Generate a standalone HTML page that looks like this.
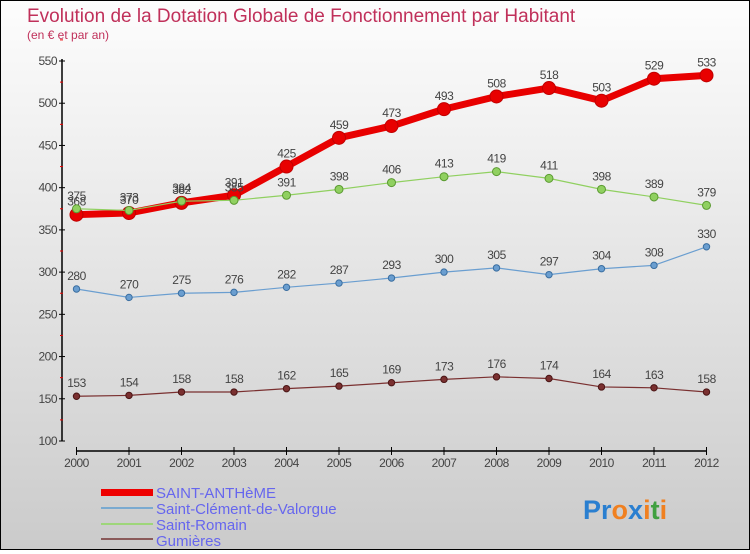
<!DOCTYPE html>
<html><head><meta charset="utf-8"><style>
body{margin:0;width:750px;height:550px;overflow:hidden;font-family:"Liberation Sans",sans-serif}
#wrap{position:absolute;left:0;top:0;width:748px;height:548px;border:1px solid #000;background:linear-gradient(#fdfdfd,#cbcbcb)}
</style></head><body>
<div id="wrap">
<svg id="chart" width="748" height="548" font-family="Liberation Sans, sans-serif">
<text x="26" y="21" font-size="19" fill="#c0305a">Evolution de la Dotation Globale de Fonctionnement par Habitant</text>
<text x="26" y="38" font-size="12" fill="#c0305a">(en € et par an)</text>
<g id="axes"></g><g id="series"></g>
<g>
<rect x="100" y="488" width="52" height="7" fill="#e00"/>
<rect x="100" y="506" width="52" height="2" fill="#7aaad0"/>
<rect x="100" y="522" width="52" height="2" fill="#9ed67a"/>
<rect x="100" y="537" width="52" height="2" fill="#8a5a5a"/>
<text x="155" y="497" font-size="15" fill="#6666ee">SAINT-ANTHèME</text>
<text x="155" y="513" font-size="15" fill="#6666ee">Saint-Clément-de-Valorgue</text>
<text x="155" y="529" font-size="15" fill="#6666ee">Saint-Romain</text>
<text x="155" y="545" font-size="15" fill="#6666ee">Gumières</text>
</g>
<text x="582" y="518" font-size="27" font-weight="bold"><tspan fill="#2a7fd0">Pr</tspan><tspan fill="#f08020">o</tspan><tspan fill="#2a7fd0">x</tspan><tspan fill="#f08020">i</tspan><tspan fill="#40a040">t</tspan><tspan fill="#f08020">i</tspan></text>
</svg></div>
<script>
const years=[2000,2001,2002,2003,2004,2005,2006,2007,2008,2009,2010,2011,2012];
const yTicks=[100,150,200,250,300,350,400,450,500,550];
const antheme=[368,370,382,391,425,459,473,493,508,518,503,529,533];
const clement=[280,270,275,276,282,287,293,300,305,297,304,308,330];
const romain=[375,373,384,385,391,398,406,413,419,411,398,389,379];
const gumieres=[153,154,158,158,162,165,169,173,176,174,164,163,158];
const NS="http://www.w3.org/2000/svg";
const X=i=>75.5+i*(630/12);
const Y=v=>440-(v-100)*(380/450);
function mk(t,a,p){const e=document.createElementNS(NS,t);for(const k in a)e.setAttribute(k,a[k]);p.appendChild(e);return e;}
const ax=document.getElementById('axes');
const ya=mk('line',{x1:61,y1:58,x2:61,y2:440,stroke:'#000','stroke-width':1.5},ax);


yTicks.forEach(v=>{
 mk('line',{x1:58,x2:64,y1:Y(v),y2:Y(v),stroke:'#000'},ax);
 mk('line',{x1:59,x2:62,y1:Y(v+25),y2:Y(v+25),stroke:'#e00'},ax);
 const t=mk('text',{x:56,y:Y(v)+4,'font-size':12,fill:'#444','text-anchor':'end','letter-spacing':'-0.5'},ax);
 
 
 t.textContent=v;
});
const xa=mk('line',{x1:X(0),y1:450,x2:X(12),y2:450,stroke:'#000','stroke-width':1.5},ax);


years.forEach((y,i)=>{
 mk('line',{x1:X(i),x2:X(i),y1:446,y2:454,stroke:'#000'},ax);
 const t=mk('text',{x:X(i),y:466,'font-size':12,fill:'#444','text-anchor':'middle','letter-spacing':'-0.5'},ax);
 
 
 t.textContent=y;
});
const sg=document.getElementById('series');
function series(arr,name,color,dark,w,r){
 const g=mk('g',{},sg);
 
 
 const pl=mk('polyline',{points:arr.map((v,i)=>X(i)+','+Y(v)).join(' '),fill:'none',stroke:color,'stroke-width':w,'stroke-linejoin':'round'},g);
 
 
 arr.forEach((v,i)=>{
  const c=mk('circle',{cx:X(i),cy:Y(v),r:r,fill:color,stroke:dark,'stroke-width':1},g);
  
  
  const t=mk('text',{x:X(i),y:Y(v)-9,'font-size':12,fill:'#444','text-anchor':'middle','letter-spacing':'-0.5'},g);
  
  
  t.textContent=v;
 });
}
series(gumieres,'gumieres','#7a3030','#4a1515',1.2,3.2);
series(clement,'saint-clement','#6a9ed0','#3a6ea0',1.2,3.2);
series(antheme,'saint-antheme','#e80000','#c00000',7,6.5);
series(romain,'saint-romain','#90d060','#5a9a30',1.2,4);
</script>
</body></html>
